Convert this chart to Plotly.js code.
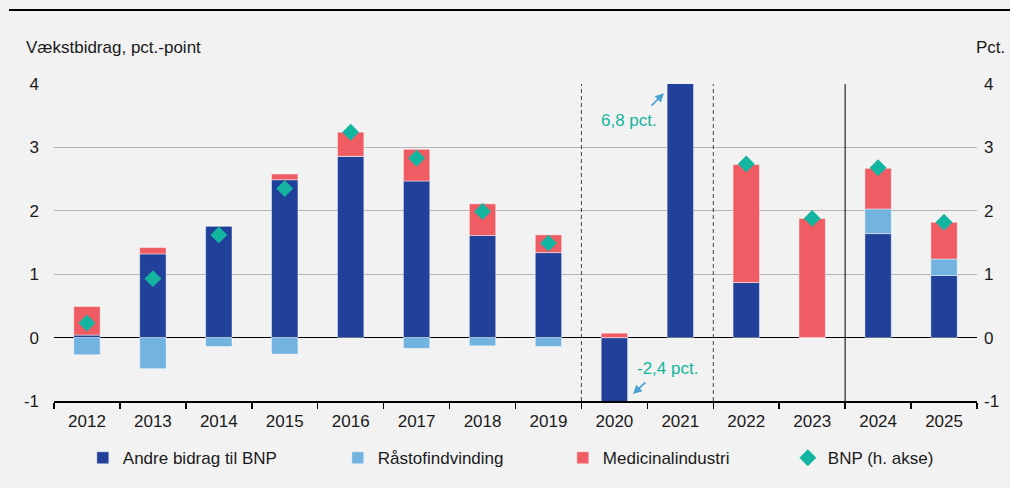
<!DOCTYPE html>
<html>
<head>
<meta charset="utf-8">
<script src="https://cdn.plot.ly/plotly-3.0.1.min.js"></script>
<style>
  html, body { margin: 0; padding: 0; background: #f2f2f2; }
  #chart { width: 1010px; height: 488px; }
</style>
</head>
<body>
<div id="chart"></div>
<script>
// Vækstbidrag (pct.-point) og BNP-vækst (pct.)
var years = ['2012', '2013', '2014', '2015', '2016', '2017', '2018', '2019', '2020', '2021', '2022', '2023', '2024', '2025'];
var andre = [0.04, 1.32, 1.76, 2.49, 2.86, 2.47, 1.61, 1.34, -2.5, 6.8, 0.87, 0, 1.64, 0.98];
var raastof = [-0.27, -0.49, -0.14, -0.26, 0, -0.17, -0.13, -0.14, 0, 0, 0, 0, 0.39, 0.26];
var medicinal = [0.45, 0.10, 0, 0.09, 0.38, 0.50, 0.50, 0.28, 0.07, 0, 1.86, 1.88, 0.64, 0.58];
var bnp = [0.23, 0.93, 1.62, 2.35, 3.24, 2.83, 1.99, 1.49, -2.4, 6.8, 2.74, 1.88, 2.68, 1.82];
var yTicks = [-1, 0, 1, 2, 3, 4];
var yTickText = ['-1', '0', '1', '2', '3', '4'];

var font = 'Liberation Sans, Arial, sans-serif';
var teal = '#14b5a0';
var edge = {width: 0.8, color: 'rgba(255,255,255,0.55)'};

var trace1 = {
  type: 'bar', x: years, y: andre, name: 'Andre bidrag til BNP',
  marker: {color: '#21409a', line: edge}, legendwidth: 210
};
var trace2 = {
  type: 'bar', x: years, y: raastof, name: 'Råstofindvinding',
  marker: {color: '#72b3e0', line: edge}, legendwidth: 180
};
var trace3 = {
  type: 'bar', x: years, y: medicinal, name: 'Medicinalindustri',
  marker: {color: '#f05c64', line: edge}, legendwidth: 180
};
var trace4 = {
  type: 'scatter', mode: 'markers', x: years, y: bnp, name: 'BNP (h. akse)',
  yaxis: 'y2', cliponaxis: true,
  marker: {symbol: 'diamond', size: 13, color: teal}
};

var data = [trace1, trace2, trace3, trace4];

var layout = {
  width: 1010, height: 488,
  paper_bgcolor: '#f2f2f2', plot_bgcolor: '#f2f2f2',
  font: {family: font, size: 17, color: '#1a1a1a'},
  margin: {l: 54, r: 33, t: 84, b: 87},
  barmode: 'relative', bargap: 0.6,
  showlegend: true,
  legend: {
    orientation: 'h', xref: 'container', yref: 'container',
    x: 0.082, y: 0.061, xanchor: 'left', yanchor: 'middle',
    bgcolor: 'rgba(0,0,0,0)', font: {size: 17}, traceorder: 'normal'
  },
  xaxis: {
    type: 'category', range: [-0.5, 13.5],
    tickson: 'boundaries', ticks: 'outside', ticklen: 6, tickcolor: '#000', tickwidth: 1.5,
    showline: true, linecolor: '#000', linewidth: 1.5,
    showgrid: false, fixedrange: true, ticklabelstandoff: 4
  },
  yaxis: {
    range: [-1, 4], tickvals: yTicks, ticktext: yTickText,
    showgrid: true, gridcolor: '#b4b4b4', gridwidth: 1,
    zeroline: true, zerolinecolor: '#000', zerolinewidth: 1.5,
    showline: false, ticks: '', ticklabelstandoff: 14
  },
  yaxis2: {
    overlaying: 'y', side: 'right', range: [-1, 4], tickvals: yTicks, ticktext: yTickText,
    showgrid: false, zeroline: false, showline: false, ticks: '', ticklabelstandoff: 6
  },
  shapes: [
    {type: 'line', xref: 'paper', yref: 'paper', x0: -0.0488, x1: 1.0358, y0: 1.2334, y1: 1.2334,
     line: {color: '#000', width: 2}},
    {type: 'line', xref: 'x', yref: 'y', x0: 7.5, x1: 7.5, y0: -1, y1: 4,
     line: {color: '#444', width: 1, dash: '4px,3px'}},
    {type: 'line', xref: 'x', yref: 'y', x0: 9.5, x1: 9.5, y0: -1, y1: 4,
     line: {color: '#444', width: 1, dash: '4px,3px'}},
    {type: 'line', xref: 'x', yref: 'y', x0: 11.5, x1: 11.5, y0: -1, y1: 4,
     line: {color: '#000', width: 1}}
  ],
  annotations: [
    {xref: 'paper', yref: 'paper', x: -0.0325, y: 1.1136, xanchor: 'left', yanchor: 'middle',
     text: 'Vækstbidrag, pct.-point', showarrow: false, font: {size: 17}},
    {xref: 'paper', yref: 'paper', x: 1.032, y: 1.1136, xanchor: 'right', yanchor: 'middle',
     text: 'Pct.', showarrow: false, font: {size: 17}},
    {xref: 'x', yref: 'y', x: 8.224, y: 3.418, text: '6,8 pct.', showarrow: false,
     font: {size: 17, color: teal}},
    {xref: 'x', yref: 'y', x: 8.752, y: 3.855, text: '', showarrow: true,
     ax: -14, ay: 14, arrowhead: 2, arrowsize: 1.1, arrowwidth: 1.6, arrowcolor: '#4ba3d4'},
    {xref: 'x', yref: 'y', x: 8.804, y: -0.494, text: '-2,4 pct.', showarrow: false,
     font: {size: 17, color: teal}},
    {xref: 'x', yref: 'y', x: 8.282, y: -0.888, text: '', showarrow: true,
     ax: 14, ay: -13, arrowhead: 2, arrowsize: 1.1, arrowwidth: 1.6, arrowcolor: '#4ba3d4'}
  ]
};

Plotly.newPlot('chart', data, layout, {displayModeBar: false, staticPlot: true});
</script>
</body>
</html>
